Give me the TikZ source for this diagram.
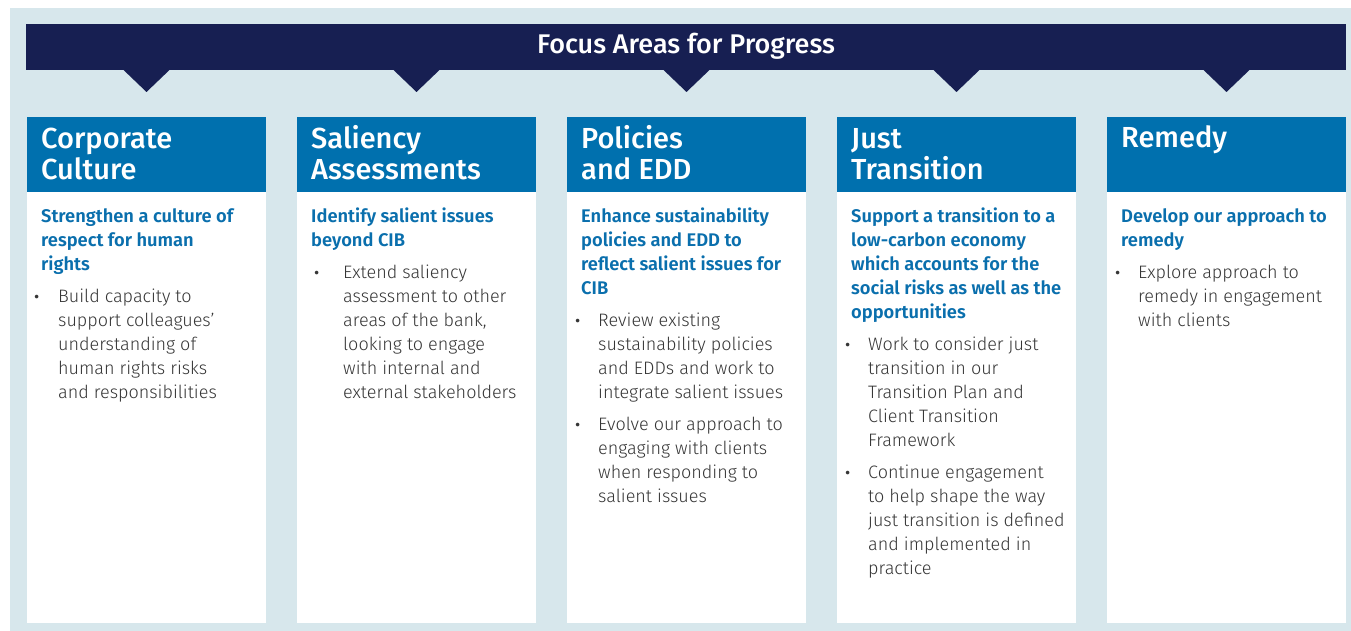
\documentclass[tikz,border=0pt]{standalone}
\usepackage{fontspec}
\setmainfont{Fira Sans}
\newfontfamily\bodyf{Fira Sans Light}
\newfontfamily\medf{Fira Sans Medium}
\newfontfamily\semif{Fira Sans SemiBold}
\definecolor{navy}{HTML}{171F52}
\definecolor{hdrblue}{HTML}{0070AE}
\definecolor{subblue}{HTML}{0A6FAD}
\definecolor{bgblue}{HTML}{D7E7EC}
\definecolor{bodygray}{HTML}{363636}
\begin{document}
\begin{tikzpicture}[x=1pt,y=-1pt,
  hdr/.style={anchor=base west, inner sep=0pt, align=left, text=white, font=\medf\fontsize{29}{32}\selectfont},
  sub/.style={anchor=base west, inner sep=0pt, align=left, text=subblue, font=\semif\fontsize{18.3}{24}\selectfont},
  bodytxt/.style={anchor=base west, inner sep=0pt, align=left, text=bodygray, font=\bodyf\fontsize{18}{24}\selectfont},
  bul/.style={anchor=base west, inner sep=0pt, text=bodygray, font=\fontsize{16}{24}\selectfont},
  hdrbox/.style={fill=hdrblue, draw=none},
  bodybox/.style={fill=white, draw=none},
  tri/.style={fill=navy}]
\useasboundingbox (0,0) rectangle (1351,631);
\fill[white] (0,0) rectangle (1351,631);
\fill[bgblue] (10,8) rectangle (1351,631);
% banner
\fill[navy] (26,24) rectangle (1346,70);
\node[anchor=base, inner sep=0pt, text=white, font=\medf\fontsize{27}{30}\selectfont] (title) at (686,54) {Focus Areas for Progress};
\foreach \cx in {146.5,416.5,686.5,956.5,1226.5}{
  \fill[tri] (\cx-24,69) -- (\cx+24,69) -- (\cx,92) -- cycle;
}
% columns
\foreach \x in {27,297,567,837,1107}{
  \fill[hdrbox] (\x,117) rectangle (\x+239,192);
  \fill[bodybox] (\x,192) rectangle (\x+239,623);
}
% column 1
\node[hdr] (h1) at (41,180) {Corporate\\Culture};
\node[sub] (s1) at (41,270) {Strengthen a culture of\\respect for human\\rights};
\node[bul] (b1a) at (34,302) {•};
\node[bodytxt] (t1a) at (58,398) {Build capacity to\\support colleagues’\\understanding of\\human rights risks\\and responsibilities};
% column 2
\node[hdr] (h2) at (311,180) {Saliency\\Assessments};
\node[sub] (s2) at (311,246) {Identify salient issues\\beyond CIB};
\node[bul] (b2a) at (314,278) {•};
\node[bodytxt] (t2a) at (343,398) {Extend saliency\\assessment to other\\areas of the bank,\\looking to engage\\with internal and\\external stakeholders};
% column 3
\node[hdr] (h3) at (581,180) {Policies\\and EDD};
\node[sub] (s3) at (581,294) {Enhance sustainability\\policies and EDD to\\reflect salient issues for\\CIB};
\node[bul] (b3a) at (575,326) {•};
\node[bodytxt] (t3a) at (598,398) {Review existing\\sustainability policies\\and EDDs and work to\\integrate salient issues};
\node[bul] (b3b) at (575,430) {•};
\node[bodytxt] (t3b) at (598,502) {Evolve our approach to\\engaging with clients\\when responding to\\salient issues};
% column 4
\node[hdr] (h4) at (851,180) {Just\\Transition};
\node[sub] (s4) at (851,318) {Support a transition to a\\low-carbon economy\\which accounts for the\\social risks as well as the\\opportunities};
\node[bul] (b4a) at (845,350) {•};
\node[bodytxt] (t4a) at (868,446) {Work to consider just\\transition in our\\Transition Plan and\\Client Transition\\Framework};
\node[bul] (b4b) at (845,478) {•};
\node[bodytxt] (t4b) at (868,574) {Continue engagement\\to help shape the way\\just transition is defined\\and implemented in\\practice};
% column 5
\node[hdr] (h5) at (1121,148) {Remedy};
\node[sub] (s5) at (1121,246) {Develop our approach to\\remedy};
\node[bul] (b5a) at (1115,278) {•};
\node[bodytxt] (t5a) at (1138,326) {Explore approach to\\remedy in engagement\\with clients};
\end{tikzpicture}
\end{document}
